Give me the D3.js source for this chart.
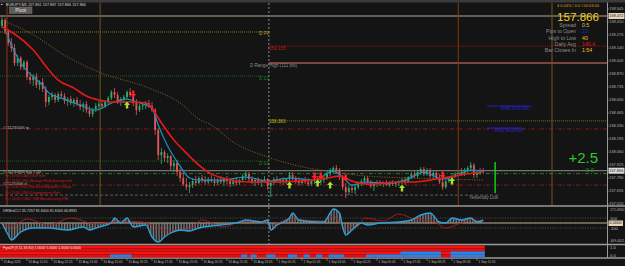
<!DOCTYPE html>
<html><head><meta charset="utf-8">
<script src="https://cdn.jsdelivr.net/npm/d3@7"></script>
<style>
html,body{margin:0;padding:0;background:#141414;overflow:hidden;}
svg{display:block;}
text{font-family:"Liberation Sans",Arial,sans-serif;}
</style></head><body>
<svg id="c" width="625" height="266"></svg>
<script>
// ---------------- DATA ----------------
const headerText = "EURJPY,M5  157.861 157.887 157.866 157.866";
// [open, high, low, close] per 10-minute slot starting 31 Aug 09:45
const candles = [
[159.368,159.461,159.347,159.430],[159.430,159.451,159.285,159.316],[159.316,159.337,159.160,159.191],[159.191,159.243,159.098,159.140],
[159.140,159.181,158.953,158.984],[158.984,159.067,158.953,159.036],[159.036,159.056,158.911,158.942],[158.942,159.015,158.911,158.994],
[158.994,159.015,158.807,158.838],[158.838,158.890,158.766,158.807],[158.807,158.870,158.745,158.849],[158.849,158.880,158.724,158.755],
[158.755,158.807,158.703,158.787],[158.787,158.828,158.683,158.714],[158.714,158.745,158.527,158.579],[158.579,158.652,158.548,158.631],
[158.631,158.683,158.600,158.652],[158.652,158.672,158.568,158.600],[158.600,158.683,158.579,158.662],[158.662,158.693,158.610,158.641],
[158.641,158.672,158.558,158.589],[158.589,158.631,158.537,158.610],[158.610,158.641,158.548,158.568],[158.568,158.620,158.527,158.600],
[158.600,158.631,158.537,158.558],[158.558,158.600,158.496,158.527],[158.527,158.579,158.475,158.558],[158.558,158.589,158.465,158.496],
[158.496,158.537,158.423,158.454],[158.454,158.517,158.423,158.506],[158.506,158.568,158.475,158.537],[158.537,158.589,158.496,158.558],
[158.558,158.600,158.506,158.537],[158.537,158.600,158.517,158.579],[158.579,158.641,158.558,158.620],[158.620,158.703,158.600,158.683],
[158.683,158.724,158.620,158.652],[158.652,158.683,158.558,158.589],[158.589,158.631,158.537,158.610],[158.610,158.652,158.568,158.631],
[158.631,158.703,158.610,158.683],[158.683,158.724,158.631,158.652],[158.652,158.672,158.537,158.568],[158.568,158.610,158.444,158.496],
[158.496,158.558,158.475,158.537],[158.537,158.579,158.496,158.548],[158.548,158.589,158.506,158.568],[158.568,158.600,158.517,158.537],
[158.537,158.579,158.475,158.496],[158.496,158.517,158.236,158.288],[158.288,158.309,157.977,158.028],[158.028,158.101,157.935,158.060],
[158.060,158.080,157.956,157.997],[157.997,158.049,157.945,158.018],[158.018,158.028,157.873,157.914],[157.914,157.977,157.852,157.945],
[157.945,157.977,157.810,157.852],[157.852,157.893,157.748,157.790],[157.790,157.852,157.707,157.727],[157.727,157.790,157.665,157.696],
[157.696,157.748,157.634,157.717],[157.717,157.790,157.686,157.758],[157.758,157.810,157.707,157.738],[157.738,157.810,157.727,157.790],
[157.790,157.821,157.738,157.769],[157.769,157.810,157.717,157.748],[157.748,157.800,157.727,157.779],[157.779,157.821,157.738,157.758],
[157.758,157.800,157.707,157.738],[157.738,157.790,157.717,157.769],[157.769,157.810,157.727,157.748],[157.748,157.800,157.707,157.779],
[157.779,157.810,157.727,157.758],[157.758,157.790,157.696,157.727],[157.727,157.779,157.707,157.758],[157.758,157.790,157.717,157.738],
[157.738,157.779,157.717,157.769],[157.769,157.831,157.748,157.810],[157.810,157.862,157.769,157.831],[157.831,157.852,157.748,157.779],
[157.779,157.810,157.727,157.748],[157.748,157.790,157.707,157.769],[157.769,157.800,157.717,157.738],[157.738,157.779,157.696,157.758],
[157.758,157.810,157.738,157.779],[157.779,157.790,157.665,157.707],[157.707,157.769,157.592,157.738],[157.738,157.800,157.717,157.779],
[157.779,157.810,157.738,157.758],[157.758,157.790,157.727,157.769],[157.769,157.800,157.717,157.748],[157.748,157.790,157.727,157.779],
[157.779,157.852,157.758,157.821],[157.821,157.852,157.769,157.790],[157.790,157.810,157.727,157.758],[157.758,157.800,157.717,157.738],
[157.738,157.790,157.717,157.769],[157.769,157.800,157.727,157.748],[157.748,157.790,157.707,157.727],[157.727,157.779,157.707,157.758],
[157.758,157.800,157.727,157.779],[157.779,157.810,157.727,157.748],[157.748,157.790,157.717,157.769],[157.769,157.810,157.738,157.790],
[157.790,157.852,157.769,157.831],[157.831,157.893,157.810,157.873],[157.873,157.914,157.842,157.893],[157.893,157.925,157.852,157.873],
[157.873,157.893,157.769,157.800],[157.800,157.821,157.665,157.696],[157.696,157.738,157.582,157.644],[157.644,157.717,157.613,157.686],
[157.686,157.727,157.634,157.665],[157.665,157.717,157.624,157.696],[157.696,157.758,157.675,157.738],[157.738,157.779,157.707,157.758],
[157.758,157.810,157.738,157.790],[157.790,157.810,157.727,157.748],[157.748,157.769,157.686,157.707],[157.707,157.738,157.655,157.727],
[157.727,157.769,157.696,157.748],[157.748,157.769,157.707,157.727],[157.727,157.758,157.696,157.738],[157.738,157.769,157.707,157.717],
[157.717,157.758,157.696,157.748],[157.748,157.769,157.707,157.727],[157.727,157.758,157.696,157.738],[157.738,157.769,157.707,157.758],
[157.758,157.790,157.727,157.769],[157.769,157.800,157.717,157.748],[157.748,157.810,157.738,157.800],[157.800,157.852,157.779,157.831],
[157.831,157.862,157.790,157.810],[157.810,157.873,157.790,157.852],[157.852,157.904,157.821,157.883],[157.883,157.904,157.810,157.831],
[157.831,157.893,157.810,157.873],[157.873,157.893,157.790,157.810],[157.810,157.862,157.779,157.842],[157.842,157.862,157.769,157.790],
[157.790,157.831,157.727,157.748],[157.748,157.790,157.665,157.696],[157.696,157.769,157.675,157.758],[157.758,157.800,157.738,157.779],
[157.779,157.831,157.758,157.810],[157.810,157.852,157.790,157.831],[157.831,157.873,157.810,157.852],[157.852,157.893,157.810,157.831],
[157.831,157.893,157.810,157.873],[157.873,157.914,157.842,157.893],[157.893,157.956,157.873,157.925],[157.925,157.945,157.790,157.821],
[157.821,157.873,157.790,157.852],[157.852,157.893,157.821,157.873],[157.873,157.893,157.842,157.866]
];
// moving averages, [slot, price]
const fastMA = [[0,159.357],[4,159.285],[10,159.119],[15,158.911],[18,158.807],[23,158.724],[27,158.641],[31,158.600],[35,158.579],[42,158.579],[46,158.568],[48,158.517],[50,158.413],[55,158.185],[59,158.049],[63,157.925],[66,157.852],[73,157.769],[79,157.748],[95,157.758],[104,157.790],[108,157.810],[112,157.758],[117,157.727],[127,157.748],[131,157.748],[141,157.790],[151,157.842],[154,157.852]];
const signalMA = [[1,159.326],[3,159.171],[6,158.984],[10,158.838],[13,158.755],[15,158.672],[19,158.620],[25,158.548],[30,158.496],[35,158.568],[40,158.610],[43,158.579],[46,158.548],[48,158.517],[50,158.340],[53,158.122],[57,157.914],[60,157.790],[63,157.769],[70,157.769],[78,157.800],[85,157.758],[92,157.790],[100,157.769],[106,157.862],[109,157.800],[112,157.717],[116,157.748],[124,157.738],[130,157.779],[135,157.852],[141,157.779],[145,157.810],[150,157.873],[154,157.862]];
const slowMA = [[0,159.430],[9,159.295],[21,159.046],[31,158.890],[47,158.724],[57,158.568],[63,158.402],[67,158.340],[74,158.164],[85,158.008],[95,157.914],[106,157.852],[117,157.810],[131,157.790],[154,157.769]];
// CCI panel, [slot, value]
const cciLine = [[0,0],[2,-240],[3,-340],[6,-180],[10,-100],[15,-100],[21,-140],[26,-80],[28,-140],[31,-80],[35,0],[36,100],[38,0],[40,100],[42,-80],[46,-40],[48,-280],[50,-380],[52,-280],[54,-200],[57,-140],[60,-160],[63,-100],[67,-60],[70,-40],[76,20],[78,60],[83,20],[85,60],[86,-140],[88,-40],[92,100],[93,200],[95,60],[101,20],[103,20],[105,200],[106,280],[108,200],[109,-80],[110,-240],[112,-140],[115,0],[117,-40],[121,0],[127,20],[131,60],[134,160],[137,200],[140,20],[142,0],[144,100],[147,60],[150,100],[152,20],[154,60]];
const cciSignal = [[0,0],[3,-60],[8,80],[15,-40],[22,100],[30,-20],[38,40],[45,20],[50,-100],[55,-160],[60,-120],[64,60],[71,-80],[76,20],[82,40],[86,-40],[92,80],[96,60],[103,40],[106,140],[110,-100],[114,-60],[116,100],[122,40],[127,180],[132,80],[138,40],[142,-100],[146,-20],[150,60],[154,40]];
const cciLevels = [100, 0, -100];
const cciHeader = "DRMrdCCI 35.7257 81.8400 81.8400 66.8931";
const cciAxisLabels = ["171.4940", "-409.4011"];
const cciAxisValues = [171.494, -409.4011];
// bottom state panel: blue spans (slots) per row
const stateRow2Blue = [[128,140],[144,154]];
const stateRow3Blue = [[35,37],[38,41],[77,78],[80,81],[85,87],[92,94],[97,98],[101,102],[105,109],[117,119],[120,128],[129,140],[144,154]];
const stateHeader = "Fgw29 (3,11,33,60) 1.0000 1.0000 1.0000 0.0000";
// axes
const timeLabels = ["31 Aug 2023","31 Aug 11:05","31 Aug 12:25","31 Aug 13:45","31 Aug 15:05","31 Aug 16:25","31 Aug 17:45","31 Aug 19:05","31 Aug 20:25","31 Aug 21:45","31 Aug 23:05","1 Sep 00:25","1 Sep 01:45","1 Sep 03:05","1 Sep 04:25","1 Sep 05:45","1 Sep 07:05","1 Sep 08:25","1 Sep 09:45","1 Sep 11:05"];
const priceTicks = [159.545,159.410,159.275,159.140,159.005,158.870,158.735,158.600,158.465,158.330,158.195,158.060,157.925,157.790,157.655,157.520];
// horizontal levels
const levelNames  = ["dayHigh","prevPP","r1","rangeHigh","prevS1","pp","tp","prevS2","bid","entry","sl","yLow","weekA","weekB"];
const levelValues = [159.472,159.306,159.160,158.984,158.849,158.383,158.300,157.966,157.866,157.836,157.717,157.613,158.537,158.309];
// vertical time markers (slot)
const markerNames = ["m1","m2","daySep","m3","m4"];
const markerSlots = [1.6,31.4,85.4,146,176];
// signal arrows [slot, price]
const buyArrows = [[40,158.548],[92,157.717],[101,157.738],[105,157.717],[128,157.686],[144,157.758]];
const sellArrows = [[42,158.662],[100,157.810],[102,157.810],[110,157.790],[141,157.821]];
// news lines
const newsItems = ["Fri | 13:30 | CAD | GDP m/m","Fri | 13:30 | USD | Average Hourly Earnings m/m","Fri | 13:30 | USD | Non-Farm Employment Change","Fri | 13:30 | USD | Unemployment Rate","Fri | 15:00 | USD | ISM Manufacturing PMI"];
// info panel
const bidPrice = "157.866";
const infoTop = "4 0.04% / 0.0 / 00:03:04";
const infoLabels = ["Spread","Pips to Open","High to Low","Daily Avg","Bar Closes In"];
const infoValues = ["0.5","23","40","140.4","1:54"];
const pipsBig = "+2.5";
const pipsSmall = "0.0";
const dayRangeBar = [157.956, 157.634];
const dayRangeSlot = 157.8;

// ---------------- DRAW ----------------
const W = 625, H = 266, PR = 607.5;
const svg = d3.select("#c");
svg.append("rect").attr("width", W).attr("height", H).attr("fill", "#141414");
svg.append("rect").attr("width", W).attr("height", 2.5).attr("fill", "#3b3b3b");

const x = d3.scaleLinear().domain([0, 154]).range([2, 483.25]);
const y = d3.scaleLinear().domain([157.510, 159.607]).range([205, 3]);
const yc = d3.scaleLinear().domain([0, 100]).range([223, 218]);
const rowY = d3.scaleBand().domain([0,1,2,3]).range([245.5, 257.5]);

const defs = svg.append("defs");
defs.append("clipPath").attr("id","mainClip").append("rect").attr("x",0).attr("y",3).attr("width",PR).attr("height",202);
defs.append("clipPath").attr("id","cciClip").append("rect").attr("x",0).attr("y",207).attr("width",PR).attr("height",37);
const pat = defs.append("pattern").attr("id","hatch").attr("patternUnits","userSpaceOnUse").attr("width",1.5625).attr("height",10);
pat.append("rect").attr("width",0.7).attr("height",10).attr("fill","#8a8a8a");

const main = svg.append("g").attr("clip-path","url(#mainClip)");

// vertical markers
const markerStyle = {m1:{c:"#8e3416",d:null}, m2:{c:"#6e5618",d:null}, daySep:{c:"#8c8c8c",d:"2,2"}, m3:{c:"#7a3c14",d:null}, m4:{c:"#6e5a1a",d:null}};
markerNames.forEach((n,i)=>{
  const s = markerStyle[n];
  svg.append("line").attr("x1",x(markerSlots[i])).attr("x2",x(markerSlots[i]))
    .attr("y1",3).attr("y2", n==="daySep"?258:205)
    .attr("stroke",s.c).attr("stroke-width",1).attr("stroke-dasharray",s.d);
});

// horizontal levels
const xDay = x(85.4);
const levelStyle = {
  dayHigh:{c:"#b8a48e",d:null,x0:0,x1:PR,w:1},
  prevPP:{c:"#7c7c1c",d:"1,1",x0:0,x1:xDay-6,w:1},
  r1:{c:"#a01414",d:"1,1",x0:xDay,x1:PR,w:1},
  rangeHigh:{c:"#e07a6a",d:null,x0:xDay,x1:PR,w:1},
  prevS1:{c:"#1e5e1e",d:"1,1",x0:0,x1:xDay-6,w:1},
  pp:{c:"#7c7c1c",d:"1,1",x0:xDay,x1:PR,w:1},
  tp:{c:"#8a1a1a",d:"4,2,1,2",x0:0,x1:PR,w:1},
  prevS2:{c:"#1e5e1e",d:"1,1",x0:0,x1:xDay-6,w:1},
  bid:{c:"#8c8c8c",d:null,x0:0,x1:PR,w:1},
  entry:{c:"#2a7a2a",d:"4,2,1,2",x0:0,x1:PR,w:1},
  sl:{c:"#8a1a1a",d:"4,2,1,2",x0:0,x1:PR,w:1},
  yLow:{c:"#5e5e5e",d:"3,2",x0:0,x1:500,w:1},
  weekA:{c:"#2020c8",d:null,x0:487,x1:532,w:1},
  weekB:{c:"#2020c8",d:null,x0:487,x1:522,w:1}
};
levelNames.forEach((n,i)=>{
  const s = levelStyle[n];
  main.append("line").attr("x1",s.x0).attr("x2",s.x1).attr("y1",y(levelValues[i])).attr("y2",y(levelValues[i]))
    .attr("stroke",s.c).attr("stroke-width",s.w).attr("stroke-dasharray",s.d);
});

// day range bar
main.append("line").attr("x1",x(dayRangeSlot)).attr("x2",x(dayRangeSlot))
  .attr("y1",y(dayRangeBar[0])).attr("y2",y(dayRangeBar[1])).attr("stroke","#10d010").attr("stroke-width",1.5);

// moving averages
const line = d3.line().x(d=>x(d[0])).y(d=>y(d[1])).curve(d3.curveMonotoneX);
main.append("path").datum(slowMA).attr("d",line).attr("fill","none").attr("stroke","#8a6a26").attr("stroke-width",1).attr("stroke-dasharray","1,1.5");

// candles
const bw = 1.8;
const cg = main.append("g");
candles.forEach((c,i)=>{
  const up = c[3] >= c[0];
  const col = up ? "#2fae6a" : "#e05656";
  const cx = x(i);
  cg.append("line").attr("x1",cx).attr("x2",cx).attr("y1",y(c[1])).attr("y2",y(c[2])).attr("stroke",col).attr("stroke-width",0.8);
  const yt = y(Math.max(c[0],c[3])), yb = y(Math.min(c[0],c[3]));
  cg.append("rect").attr("x",cx-bw/2).attr("y",yt).attr("width",bw).attr("height",Math.max(0.8,yb-yt)).attr("fill",col);
});

main.append("path").datum(signalMA).attr("d",line).attr("fill","none").attr("stroke","#1b8fc4").attr("stroke-width",1.2);
main.append("path").datum(fastMA).attr("d",line).attr("fill","none").attr("stroke","#e81818").attr("stroke-width",1.6);

// arrows
const upArrow = "M0,-3.5 L3,0 L1.2,0 L1.2,3.5 L-1.2,3.5 L-1.2,0 L-3,0 Z";
buyArrows.forEach(a=>{
  main.append("path").attr("d",upArrow).attr("transform",`translate(${x(a[0])},${y(a[1])})`).attr("fill","#a6e22a");
});
sellArrows.forEach(a=>{
  main.append("path").attr("d",upArrow).attr("transform",`translate(${x(a[0])},${y(a[1])}) rotate(180)`).attr("fill","#ff2020");
});

// text helper
function txt(g, t, tx, ty, size, col, anchor, weight, len){
  const e = g.append("text").attr("x",tx).attr("y",ty).attr("font-size",size).attr("fill",col)
    .attr("text-anchor",anchor||"start").attr("font-weight",weight||"normal").attr("dominant-baseline","middle").text(t);
  if (len) e.attr("textLength",len).attr("lengthAdjust","spacingAndGlyphs");
  return e;
}

// level labels
txt(main, "D PP", xDay-10, y(159.306)+2, 4.6, "#b0b020");
txt(main, "159.155", xDay, y(159.160)+3, 4.6, "#c01818");
txt(main, "D Range High (111 pts)", 250, y(158.984)+3, 4.6, "#8a8a8a", null, null, 47);
txt(main, "D S1", xDay-10, y(158.849)+3, 4.6, "#1e7e1e");
txt(main, "158.383", xDay, y(158.383)+1, 4.6, "#c0b020");
txt(main, "D S2", xDay-10, y(157.966)+3, 4.6, "#1e7e1e");
txt(main, "R4W 24 D 00h", 501, y(158.537)+3, 4.6, "#2828d0", null, null, 28);
txt(main, "R3W 24 D 00h", 495, y(158.309)+3, 4.6, "#2828d0", null, null, 28);
txt(main, "Yesterday Low", 469, y(157.613)+3, 4.6, "#8a8a8a", null, null, 29);
txt(main, "#211231666 tp", 3, y(158.300)-1.5, 4.2, "#b4b4b4", null, null, 26);
txt(main, "#211231666 buy 1.00", 3, y(157.836)-1.8, 3.8, "#b4b4b4", null, null, 38);
txt(main, "#211231666 sl", 3, y(157.717)-1.4, 3.6, "#b4b4b4", null, null, 24);
const newsLens = [40, 67, 66, 55, 63];
newsItems.forEach((t,i)=> txt(main, t, 5, 175.6 + i*5.7, 4.2, "#d41414", null, null, newsLens[i]));

// header
txt(svg, "▪", 1, 4.5, 5, "#dddddd");
txt(svg, headerText, 6, 4.5, 4.4, "#d8d8d8", null, null, 80);
svg.append("rect").attr("x",9.5).attr("y",7).attr("width",22.5).attr("height",6.5).attr("fill","#5c5c5c").attr("stroke","#777").attr("stroke-width",0.5);
txt(svg, "Pivot", 20.7, 10.5, 5, "#e0e0e0", "middle");

// info block
txt(svg, infoTop, 599, 5.5, 4.4, "#d8a020", "end", null, 42);
svg.append("text").attr("x",599).attr("y",21).attr("font-size",11.6).attr("fill","#f2d21e").attr("text-anchor","end").text(bidPrice);
const infoCols = ["#e8c81e","#2424e0","#e8c81e","#e01414","#e8c81e"];
infoLabels.forEach((t,i)=>{
  txt(svg, t, 576, 25.5 + i*6.4, 5.2, "#8c8c8c", "end");
  txt(svg, infoValues[i], 582, 25.5 + i*6.4, 5.2, infoCols[i]);
});
svg.append("text").attr("x",598).attr("y",163).attr("font-size",15).attr("fill","#2ec82e").attr("text-anchor","end").text(pipsBig);
txt(svg, pipsSmall, 594, 170, 6, "#1f9a1f", "end");

// panel separators & axis line
[206, 244.5, 258].forEach(v=> svg.append("line").attr("x1",0).attr("x2",W).attr("y1",v).attr("y2",v).attr("stroke","#9a9a9a").attr("stroke-width",1.3));
svg.append("line").attr("x1",PR).attr("x2",PR).attr("y1",2.5).attr("y2",258).attr("stroke","#9a9a9a").attr("stroke-width",1);

// price axis
const AX = 609.3, AXL = 14;
priceTicks.forEach(p=>{
  svg.append("line").attr("x1",PR).attr("x2",PR+1.5).attr("y1",y(p)).attr("y2",y(p)).attr("stroke","#9a9a9a").attr("stroke-width",0.6);
  txt(svg, p.toFixed(3), AX, y(p), 4.2, "#b8b8b8", null, null, AXL);
});
function tag(v, yy, bg){
  svg.append("rect").attr("x",PR+1).attr("y",yy-3).attr("width",16).attr("height",6).attr("fill",bg);
  txt(svg, v, AX, yy+0.2, 4.2, "#111", null, null, AXL);
}
tag(levelValues[0].toFixed(3), y(levelValues[0]), "#e6d6bc");
tag(bidPrice, y(157.866), "#dedede");

// CCI panel
const cg2 = svg.append("g").attr("clip-path","url(#cciClip)");
cciLevels.forEach(v=>{
  cg2.append("line").attr("x1",0).attr("x2",PR).attr("y1",yc(v)).attr("y2",yc(v))
    .attr("stroke", v===0 ? "#bfae96" : "#5c5c5c").attr("stroke-width", v===0?1:0.8).attr("stroke-dasharray", v===0?null:"1,1.5");
});
const area = d3.area().x(d=>x(d[0])).y0(yc(0)).y1(d=>yc(d[1])).curve(d3.curveMonotoneX);
cg2.append("path").datum(cciLine).attr("d",area).attr("fill","url(#hatch)");
const cline = d3.line().x(d=>x(d[0])).y(d=>yc(d[1])).curve(d3.curveMonotoneX);
cg2.append("path").datum(cciSignal).attr("d",cline).attr("fill","none").attr("stroke","#b01c1c").attr("stroke-width",0.9);
cg2.append("path").datum(cciLine).attr("d",cline).attr("fill","none").attr("stroke","#2aa0da").attr("stroke-width",1.4);
txt(svg, cciHeader, 3, 210.5, 4.4, "#d0d0d0", null, null, 74);
cciAxisValues.forEach((v,i)=> txt(svg, cciAxisLabels[i], 624.3, i===0 ? 209.8 : 241, 3.4, "#b8b8b8", "end"));
txt(svg, "100", 610, yc(100)+1, 4.2, "#b8b8b8");
txt(svg, "-100", 609.5, yc(-100)+0.5, 4.2, "#b8b8b8");
svg.append("rect").attr("x",PR+1).attr("y",yc(0)-2.5).attr("width",14.5).attr("height",5.5).attr("fill","#e6d6bc");
txt(svg, "0.0000", AX, yc(0)+0.3, 4.2, "#111", null, null, 12.5);

// state panel
const sg = svg.append("g");
[0,1,2,3].forEach(r=>{
  sg.append("rect").attr("x",0).attr("y",rowY(r)).attr("width",x(154)+1.5).attr("height",rowY.bandwidth())
    .attr("fill", r%2===0 ? "#f41414" : "#e20e0e");
});
function blueSpans(spans, r){
  spans.forEach(s=> sg.append("rect").attr("x",x(s[0])-1.5).attr("y",rowY(r)).attr("width",x(s[1])-x(s[0])+3).attr("height",rowY.bandwidth()).attr("fill","#2286e6"));
}
blueSpans(stateRow2Blue, 2);
blueSpans(stateRow3Blue, 3);
txt(svg, stateHeader, 3, 248.2, 4.2, "#f0f0f0", null, null, 78);
txt(svg, "1.0", 610, 248.3, 4.2, "#b8b8b8");
txt(svg, "0.0", 610, 255.5, 4.2, "#b8b8b8");

// time axis
timeLabels.forEach((t,k)=>{
  const tx = x(k*8);
  svg.append("line").attr("x1",tx).attr("x2",tx).attr("y1",258).attr("y2",261).attr("stroke","#9a9a9a").attr("stroke-width",0.6);
  txt(svg, t, tx+1.5, 262.3, 4, "#b8b8b8", null, null, t.length > 11 ? 19 : 17);
});
</script>
</body></html>
